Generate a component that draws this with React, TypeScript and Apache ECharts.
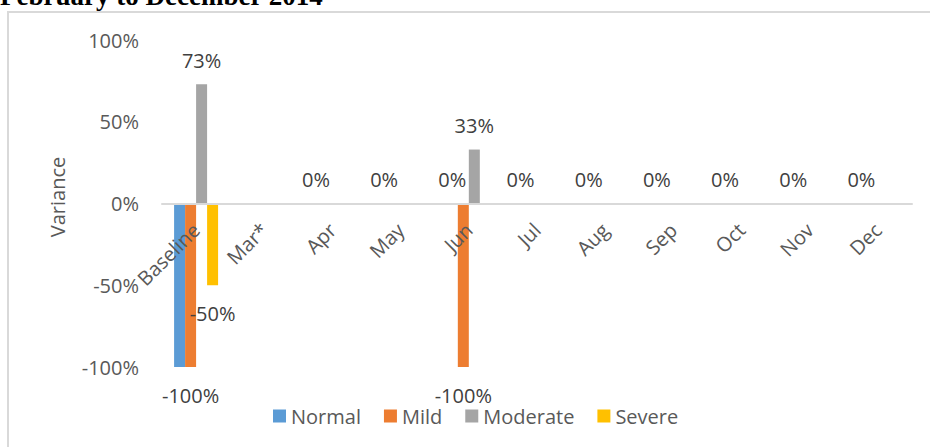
import React, { useEffect, useRef } from "react";
import * as echarts from "echarts";

// Month categories along the x axis
const categories = ["Baseline", "Mar*", "Apr", "May", "Jun", "Jul", "Aug", "Sep", "Oct", "Nov", "Dec"];

// Variance (%) per severity group; null = no value for that month
const normal = [-100, null, 0, 0, 0, 0, 0, 0, 0, 0, 0];
const mild = [-100, null, null, null, -100, null, null, null, null, null, null];
const moderate = [73, null, null, null, 33, null, null, null, null, null, null];
const severe = [-50, null, null, null, null, null, null, null, null, null, null];

// Categories whose Normal value label is suppressed (it sits under the Mild label)
const normalLabelHidden = ["Baseline"];

const yTicks = { min: -100, max: 100, interval: 50 };

const FONT = "Open Sans";
const AXIS_TEXT = "#595959";
const LABEL_TEXT = "#404040";

const GRID = { left: 162, right: 18, top: 40, bottom: 80 };
const PLOT_HEIGHT = 447 - GRID.top - GRID.bottom;

function toItems(values: (number | null)[], hidden: string[] = []) {
  return values.map((v, i) => {
    if (v === null) return null;
    const show = !hidden.includes(categories[i]);
    return {
      value: v,
      label: {
        show,
        position: v < 0 ? "bottom" : "top",
        distance: v < 0 ? 18 : 14,
      },
    };
  });
}

export default function App() {
  const ref = useRef<HTMLDivElement>(null);

  useEffect(() => {
    if (!ref.current) return;
    const chart = echarts.init(ref.current, undefined, { renderer: "svg" });

    const labelStyle = {
      show: true,
      fontFamily: FONT,
      fontSize: 20,
      color: LABEL_TEXT,
      formatter: (p: any) => `${p.value}%`,
    };

    const makeSeries = (name: string, color: string, values: (number | null)[], hidden: string[] = []) => ({
      name,
      type: "bar",
      barWidth: 11,
      barGap: "0%",
      itemStyle: { color },
      label: labelStyle,
      data: toItems(values, hidden),
    });

    // The category axis sits on the zero line: shift it up by the share of
    // the plot that lies below zero.
    const belowZero = (0 - yTicks.min) / (yTicks.max - yTicks.min);

    chart.setOption({
      animation: false,
      backgroundColor: "#ffffff",
      grid: { ...GRID, containLabel: false },
      legend: {
        left: 268,
        top: 401,
        icon: "rect",
        itemWidth: 13,
        itemHeight: 13,
        itemGap: 23,
        textStyle: { fontFamily: FONT, fontSize: 20, color: AXIS_TEXT },
        data: ["Normal", "Mild", "Moderate", "Severe"],
      },
      xAxis: {
        type: "category",
        data: categories,
        z: 5,
        offset: -PLOT_HEIGHT * belowZero,
        axisLine: { onZero: false, lineStyle: { color: "#d9d9d9", width: 2 } },
        axisTick: { show: false },
        axisLabel: {
          rotate: 45,
          margin: 23,
          interval: 0,
          fontFamily: FONT,
          fontSize: 20,
          color: AXIS_TEXT,
        },
      },
      yAxis: {
        type: "value",
        min: yTicks.min,
        max: yTicks.max,
        interval: yTicks.interval,
        axisLine: { show: false },
        axisTick: { show: false },
        splitLine: { show: false },
        axisLabel: {
          margin: 23,
          fontFamily: FONT,
          fontSize: 20,
          color: AXIS_TEXT,
          formatter: "{value}%",
        },
      },
      graphic: [
        {
          type: "rect",
          z: -10,
          shape: { x: 8, y: 12, width: 940, height: 460 },
          style: { fill: "none", stroke: "#d9d9d9", lineWidth: 2 },
          silent: true,
        },
        {
          type: "text",
          x: 0,
          y: 9,
          style: {
            text: "February to December 2014",
            fontFamily: "Liberation Serif",
            fontWeight: "bold",
            fontSize: 27,
            fill: "#000000",
            textAlign: "left",
            textVerticalAlign: "bottom",
          },
        },
        {
          type: "text",
          x: 57,
          y: 197,
          rotation: Math.PI / 2,
          style: {
            text: "Variance",
            fontFamily: FONT,
            fontSize: 20,
            fill: AXIS_TEXT,
            textAlign: "center",
            textVerticalAlign: "middle",
          },
        },
      ],
      series: [
        makeSeries("Normal", "#5B9BD5", normal, normalLabelHidden),
        makeSeries("Mild", "#ED7D31", mild),
        makeSeries("Moderate", "#A5A5A5", moderate),
        makeSeries("Severe", "#FFC000", severe),
      ],
    });

    return () => chart.dispose();
  }, []);

  return (
    <div
      ref={ref}
      style={{ position: "absolute", left: 0, top: 0, width: 930, height: 447 }}
    />
  );
}
